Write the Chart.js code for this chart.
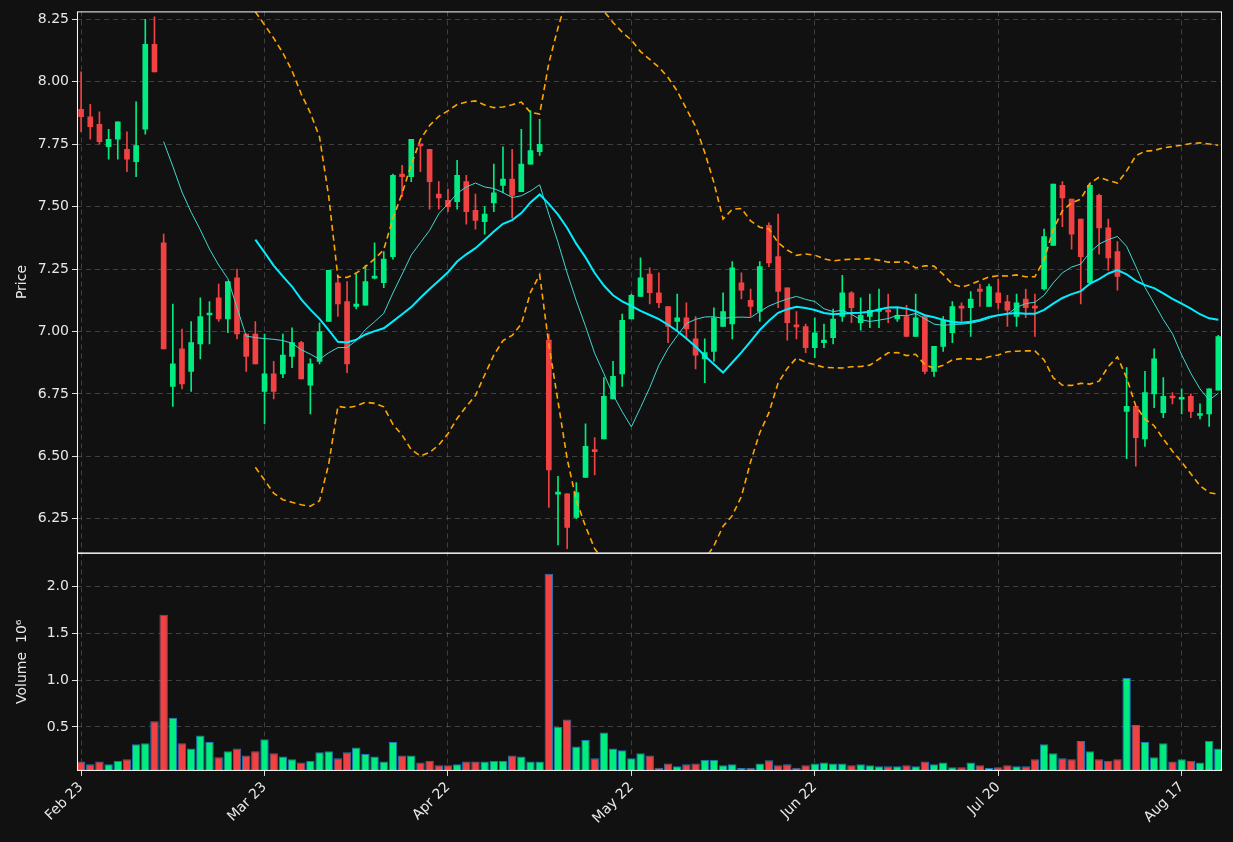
<!DOCTYPE html>
<html><head><meta charset="utf-8">
<script src="https://cdn.jsdelivr.net/npm/chart.js@4.4.1/dist/chart.umd.min.js"></script>
<style>html,body{margin:0;background:#111111;}#wrap{width:1233px;height:842px;}</style>
</head><body><div id="wrap"><canvas id="c" width="1233" height="842"></canvas></div>
<script>
const opens  = [7.89,7.86,7.83,7.74,7.77,7.73,7.68,7.81,8.15,7.355, 6.78,6.93,6.84,6.95,7.07,7.135,7.05,7.215,6.99,6.99, 6.76,6.83,6.83,6.90,6.955,6.785,6.88,7.04,7.195,7.12, 7.10,7.105,7.215,7.195,7.30,7.63,7.62,7.75,7.73,7.55, 7.525,7.52,7.60,7.485,7.44,7.515,7.585,7.61,7.56,7.67, 7.72,6.965,6.35,6.35,6.255,6.415,6.525,6.57,6.73,6.83, 7.05,7.14,7.23,7.155,7.10,7.04,7.055,6.97,6.89,6.92, 7.02,7.03,7.195,7.125,7.08,7.425,7.30,7.175,7.025,7.02, 6.935,6.955,6.975,7.06,7.155,7.035,7.06,7.08,7.085,7.05, 7.06,6.98,7.06,6.84,6.94,6.995,7.10,7.095,7.17,7.10, 7.155,7.12,7.06,7.13,7.10,7.17,7.345,7.585,7.53,7.45, 7.195,7.545,7.415,7.32,6.68,6.70,6.57,6.75,6.675,6.74, 6.73,6.74,6.665,6.67,6.765];
const highs  = [8.04,7.91,7.88,7.81,7.84,7.80,7.92,8.25,8.26,7.39, 7.11,7.01,7.04,7.135,7.12,7.19,7.20,7.25,6.99,7.04, 6.99,6.88,6.99,7.015,6.96,6.89,7.035,7.245,7.225,7.20, 7.23,7.265,7.355,7.32,7.63,7.665,7.77,7.75,7.73,7.60, 7.57,7.685,7.625,7.55,7.50,7.67,7.74,7.73,7.81,7.885, 7.85,6.99,6.42,6.35,6.395,6.63,6.575,6.815,6.88,7.07, 7.15,7.295,7.255,7.235,7.10,7.15,7.115,7.06,6.97,7.095, 7.155,7.28,7.235,7.17,7.28,7.435,7.47,7.175,7.08,7.03, 7.055,7.03,7.09,7.225,7.16,7.135,7.15,7.17,7.15,7.095, 7.105,7.15,7.06,6.94,7.06,7.12,7.115,7.16,7.19,7.19, 7.21,7.145,7.15,7.17,7.15,7.41,7.59,7.60,7.53,7.45, 7.59,7.55,7.45,7.36,6.855,6.70,6.84,6.93,6.815,6.755, 6.77,6.75,6.71,6.77,6.985];
const lows   = [7.80,7.77,7.75,7.69,7.69,7.64,7.62,7.79,8.04,6.93, 6.70,6.77,6.76,6.89,6.95,7.04,6.995,6.97,6.84,6.87, 6.63,6.73,6.815,6.855,6.81,6.67,6.87,7.04,7.06,6.835, 7.09,7.105,7.21,7.175,7.29,7.54,7.60,7.64,7.49,7.49, 7.48,7.49,7.43,7.41,7.39,7.48,7.555,7.455,7.56,7.67, 7.705,6.295,6.145,6.13,6.25,6.415,6.425,6.57,6.73,6.78, 7.05,7.14,7.11,7.095,6.955,7.005,6.975,6.85,6.795,6.88, 7.02,6.97,7.13,7.06,7.04,7.26,7.095,6.965,6.97,6.915, 6.895,6.935,6.95,7.04,7.035,7.005,7.015,7.015,7.035,7.04, 6.98,6.98,6.83,6.82,6.92,6.955,7.04,6.98,7.10,7.10, 7.09,7.02,7.02,7.055,6.98,7.165,7.345,7.42,7.33,7.11, 7.19,7.31,7.245,7.165,6.49,6.46,6.54,6.695,6.655,6.71, 6.67,6.655,6.65,6.62,6.765];
const closes = [7.86,7.82,7.76,7.77,7.84,7.69,7.745,8.15,8.04,6.93, 6.87,6.79,6.955,7.06,7.07,7.05,7.20,6.99,6.90,6.87, 6.83,6.76,6.905,6.955,6.81,6.87,7.00,7.245,7.11,6.87, 7.11,7.20,7.22,7.29,7.625,7.62,7.77,7.745,7.60,7.535, 7.50,7.625,7.48,7.445,7.47,7.555,7.61,7.545,7.67,7.725, 7.75,6.445,6.355,6.215,6.355,6.54,6.52,6.74,6.82,7.045, 7.145,7.215,7.155,7.115,7.02,7.055,7.01,6.905,6.915,7.055, 7.08,7.255,7.165,7.10,7.26,7.275,7.16,7.035,7.02,6.935, 6.995,6.965,7.05,7.155,7.095,7.065,7.085,7.09,7.08,7.065, 6.98,7.055,6.84,6.94,7.045,7.10,7.095,7.13,7.16,7.18, 7.115,7.085,7.115,7.095,7.095,7.38,7.59,7.535,7.39,7.30, 7.585,7.415,7.295,7.22,6.70,6.575,6.755,6.89,6.74,6.735, 6.735,6.68,6.67,6.77,6.98];
const volumes = [0.13,0.10,0.13,0.10,0.14,0.155,0.315,0.325,0.56,1.70, 0.60,0.325,0.27,0.41,0.34,0.175,0.24,0.27,0.195,0.24, 0.37,0.22,0.185,0.155,0.12,0.14,0.23,0.24,0.165,0.23, 0.28,0.21,0.185,0.13,0.34,0.195,0.195,0.12,0.14,0.09, 0.09,0.10,0.13,0.13,0.13,0.14,0.14,0.195,0.185,0.13, 0.13,2.14,0.50,0.58,0.29,0.36,0.165,0.44,0.27,0.25, 0.165,0.22,0.195,0.065,0.11,0.08,0.10,0.11,0.15,0.15, 0.09,0.10,0.06,0.065,0.11,0.145,0.09,0.10,0.065,0.09, 0.11,0.12,0.11,0.11,0.09,0.10,0.09,0.08,0.08,0.08, 0.09,0.08,0.13,0.10,0.12,0.07,0.07,0.12,0.09,0.06, 0.07,0.09,0.08,0.08,0.155,0.315,0.22,0.165,0.155,0.35, 0.24,0.155,0.14,0.155,1.025,0.52,0.34,0.175,0.325,0.13, 0.155,0.14,0.12,0.35,0.27];
const tickIndex = [0,20,40,60,80,100,120];
const tickLabels = ['Feb 23','Mar 23','Apr 22','May 22','Jun 22','Jul 20','Aug 17'];
const priceTicks = [6.25,6.5,6.75,7.0,7.25,7.5,7.75,8.0,8.25];
const volTicks = [0.5,1.0,1.5,2.0];

const GREEN='#00ec80', RED='#f04242';
const n = closes.length;
const up = closes.map((c,i)=>c>=opens[i]);
function sma(p){return closes.map((_,i)=>{if(i<p-1)return null;let s=0;for(let k=i-p+1;k<=i;k++)s+=closes[k];return s/p;});}
const ma10=sma(10), ma20=sma(20);
const bbU=[],bbL=[];
for(let i=0;i<n;i++){ if(i<19){bbU.push(null);bbL.push(null);continue;}
  let m=ma20[i],v=0;for(let k=i-19;k<=i;k++)v+=(closes[k]-m)**2;const sd=Math.sqrt(v/20);
  bbU.push(m+2*sd);bbL.push(m-2*sd);}
const pt=(arr)=>arr.map((v,i)=>({x:i,y:v}));
const body=closes.map((c,i)=>{let o=opens[i];if(Math.abs(c-o)<0.008){const m=(c+o)/2;return {x:i,y:[m-0.004,m+0.004]};}return {x:i,y:[o,c]};});
const wick=closes.map((c,i)=>({x:i,y:[lows[i],highs[i]]}));
const cols=up.map(u=>u?GREEN:RED);

const clipPlugin={id:'clipStack',
 beforeDatasetDraw(chart,args){const ds=chart.data.datasets[args.index];const sc=chart.scales[ds.yAxisID];const a=chart.chartArea;const ctx=chart.ctx;ctx.save();ctx.beginPath();ctx.rect(a.left,sc.top,a.right-a.left,sc.bottom-sc.top);ctx.clip();},
 afterDatasetDraw(chart){chart.ctx.restore();},
 afterDraw(chart){const ctx=chart.ctx,a=chart.chartArea;ctx.save();ctx.strokeStyle='#ffffff';ctx.lineWidth=1;
   const p=chart.scales.y, v=chart.scales.yv;
   ctx.strokeRect(a.left+0.5,p.top+0.5,a.right-a.left-1,p.bottom-p.top);
   ctx.strokeRect(a.left+0.5,v.top+0.5,a.right-a.left-1,v.bottom-v.top-1);ctx.restore();},
 beforeDraw(chart){const ctx=chart.ctx;ctx.save();ctx.fillStyle='#111111';ctx.fillRect(0,0,chart.width,chart.height);ctx.restore();}
};
const grid={color:'rgba(110,110,110,0.5)',tickColor:'#ddd',tickLength:5,offset:false};
const brd={display:false,dash:[5,4]};
const F={family:'DejaVu Sans',size:14};
new Chart(document.getElementById('c'),{
 data:{datasets:[
  {type:'bar',data:wick,yAxisID:'y',backgroundColor:cols,barThickness:1,grouped:false,order:5},
  {type:'bar',data:body,yAxisID:'y',backgroundColor:cols,barThickness:5,grouped:false,order:4},
  {type:'line',data:pt(ma10),yAxisID:'y',borderColor:'#3fd8d0',borderWidth:1,pointRadius:0,order:3},
  {type:'line',data:pt(ma20),yAxisID:'y',borderColor:'#00eeff',borderWidth:2,pointRadius:0,order:2},
  {type:'line',data:pt(bbU),yAxisID:'y',borderColor:'#ffa500',borderWidth:1.6,borderDash:[6,4],pointRadius:0,order:1},
  {type:'line',data:pt(bbL),yAxisID:'y',borderColor:'#ffa500',borderWidth:1.6,borderDash:[6,4],pointRadius:0,order:1},
  {type:'bar',data:pt(volumes),yAxisID:'yv',backgroundColor:cols,borderColor:'#1f77b4',borderWidth:1,barPercentage:1,categoryPercentage:0.92,grouped:false,order:6}
 ]},
 options:{responsive:false,animation:false,devicePixelRatio:1,
  layout:{padding:{left:10,right:11,top:10,bottom:12}},
  plugins:{legend:{display:false},tooltip:{enabled:false}},
  scales:{
   x:{type:'linear',offset:false,min:-0.45,max:124.4,grid:{...grid},border:{...brd},
      afterBuildTicks:s=>{s.ticks=tickIndex.map(v=>({value:v}));},
      ticks:{color:'#e8e8e8',font:F,maxRotation:45,minRotation:45,callback:(v)=>{const k=tickIndex.indexOf(v);return k>=0?tickLabels[k]:'';}}},
   yv:{type:'linear',position:'left',stack:'s',stackWeight:1,min:0.03,max:2.365,border:{...brd},
      grid:{...grid},afterBuildTicks:s=>{s.ticks=volTicks.map(v=>({value:v}));},
      ticks:{color:'#e8e8e8',font:F,callback:v=>v.toFixed(1)},
      title:{display:true,text:'Volume  10⁶',color:'#e8e8e8',font:F}},
   y:{type:'linear',position:'left',stack:'s',stackWeight:2.48,min:6.114,max:8.282,border:{...brd},
      grid:{...grid},afterBuildTicks:s=>{s.ticks=priceTicks.map(v=>({value:v}));},
      ticks:{color:'#e8e8e8',font:F,callback:v=>v.toFixed(2)},
      title:{display:true,text:'Price',color:'#e8e8e8',font:F}}
  }},
 plugins:[clipPlugin]
});
</script></body></html>
